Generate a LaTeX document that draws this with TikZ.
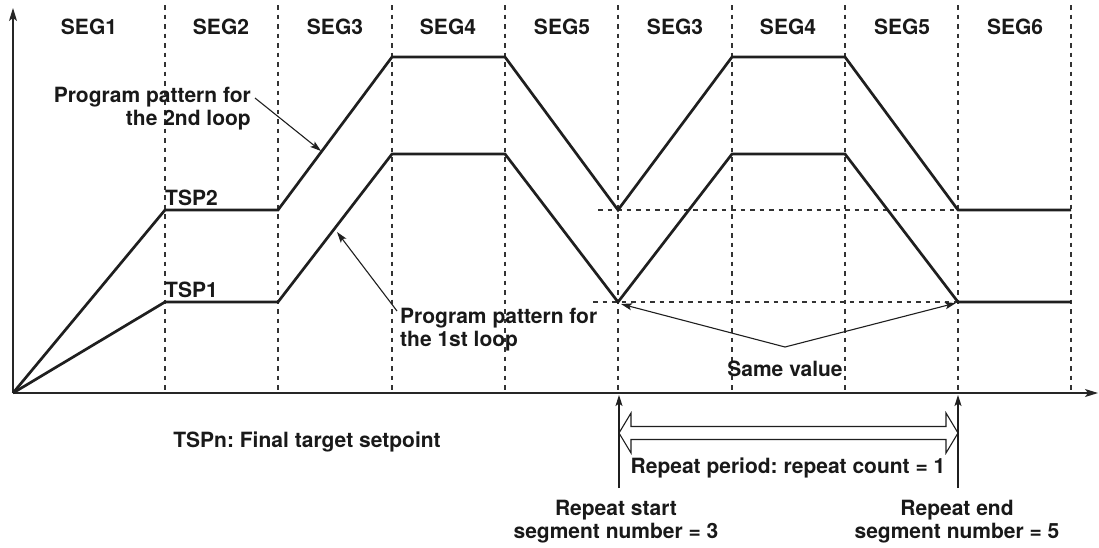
\documentclass[tikz,border=0pt]{standalone}
\usepackage{fontspec}
\setmainfont{TeX Gyre Heros}
\usetikzlibrary{arrows.meta,calc}
\frenchspacing
\tikzset{
  lbl/.style={font=\fontsize{21}{23}\selectfont\bfseries, inner sep=0pt, text=black!90},
  grid/.style={line width=1.2pt, dash pattern=on 4.5pt off 5pt, black!80},
  curve/.style={line width=2.7pt, line join=miter, black!88},
  axis/.style={line width=1.4pt, black!85, -{Stealth[length=13pt,width=8pt,inset=3pt]}},
  thin/.style={line width=1.1pt, black!88, -{Stealth[length=11pt,width=7pt,inset=2.5pt]}},
  hollow/.style={line width=1.1pt, black!88, line join=miter}
}
\begin{document}
\begin{tikzpicture}[x=1pt,y=-1pt]
\useasboundingbox (0,0) rectangle (1099,547);
% vertical grid
\foreach \i/\x in {1/165,2/278,3/392,4/505,5/618,6/732,7/845,8/958,9/1071}{
  \coordinate (gt\i) at (\x,5);
  \coordinate (gb\i) at (\x,393);
  \draw[grid] (gt\i) -- (gb\i);
}
% horizontal dashed
\coordinate (h2a) at (598,210); \coordinate (h2b) at (1071,210);
\coordinate (h1a) at (593,302); \coordinate (h1b) at (1071,302);
\draw[grid] (h2a) -- (h2b);
\draw[grid] (h1a) -- (h1b);
% axes
\coordinate (O) at (13,393);
\coordinate (ytop) at (13,8);
\coordinate (xend) at (1098,393);
\draw[axis] (O) -- (ytop);
\draw[axis] (O) -- (xend);
% segment labels
\foreach \n/\x/\t in {s1/89/SEG1,s2/221/SEG2,s3/335/SEG3,s4/448/SEG4,s5/562/SEG5,s6/675/SEG3,s7/788/SEG4,s8/902/SEG5,s9/1015/SEG6}{
  \node[lbl] (\n) at (\x,27) {\t};
}
% 2nd loop curve
\coordinate (a1) at (165,210); \coordinate (a2) at (278,210);
\coordinate (a3) at (392,57);  \coordinate (a4) at (505,57);
\coordinate (a5) at (618,210); \coordinate (a6) at (732,57);
\coordinate (a7) at (845,57);  \coordinate (a8) at (958,210);
\coordinate (a9) at (1071,210);
\draw[curve] (O) -- (a1) -- (a2) -- (a3) -- (a4) -- (a5) -- (a6) -- (a7) -- (a8) -- (a9);
% 1st loop curve
\coordinate (b1) at (165,302); \coordinate (b2) at (278,302);
\coordinate (b3) at (392,154); \coordinate (b4) at (505,154);
\coordinate (b5) at (618,302); \coordinate (b6) at (732,154);
\coordinate (b7) at (845,154); \coordinate (b8) at (958,302);
\coordinate (b9) at (1071,302);
\draw[curve] (O) -- (b1) -- (b2) -- (b3) -- (b4) -- (b5) -- (b6) -- (b7) -- (b8) -- (b9);
% TSP labels
\node[lbl, anchor=west] (tsp2) at (165,198) {TSP2};
\node[lbl, anchor=west] (tsp1) at (165,290) {TSP1};
% program pattern labels
\node[lbl, align=right, anchor=east] (pp2) at (251,109) {Program pattern for\\the 2nd loop};
\coordinate (pp2s) at (255,98); \coordinate (pp2t) at (321,151);
\draw[thin] (pp2s) -- (pp2t);
\node[lbl, align=left, anchor=west] (pp1) at (400,330) {Program pattern for\\the 1st loop};
\coordinate (pp1s) at (397,311); \coordinate (pp1t) at (337,232);
\draw[thin] (pp1s) -- (pp1t);
% same value
\node[lbl] (same) at (785,369) {Same value};
\coordinate (sv) at (785,347);
\coordinate (svl) at (621,304); \coordinate (svr) at (956,303);
\draw[thin] (sv) -- (svl);
\draw[thin] (sv) -- (svr);
% repeat start / end arrows
\coordinate (rsb) at (619,488); \coordinate (rst) at (619,395);
\coordinate (reb) at (958,488); \coordinate (ret) at (958,395);
\draw[thin] (rsb) -- (rst);
\draw[thin] (reb) -- (ret);
% hollow double arrow
\coordinate (dl) at (619,433); \coordinate (dr) at (958,433);
\draw[hollow] (dl) -- ($(dl)+(12,-20)$) -- ($(dl)+(12,-6.5)$) -- ($(dr)+(-12,-6.5)$) -- ($(dr)+(-12,-20)$) -- (dr)
  -- ($(dr)+(-12,20)$) -- ($(dr)+(-12,6.5)$) -- ($(dl)+(12,6.5)$) -- ($(dl)+(12,20)$) -- cycle;
\node[lbl] (rp) at (788,468) {Repeat period: repeat count = 1};
\node[lbl, align=center] (rs) at (616,522) {Repeat start\\segment number = 3};
\node[lbl, align=center] (re) at (957,522) {Repeat end\\segment number = 5};
\node[lbl] (tspn) at (307,442) {TSPn: Final target setpoint};
\end{tikzpicture}
\end{document}
